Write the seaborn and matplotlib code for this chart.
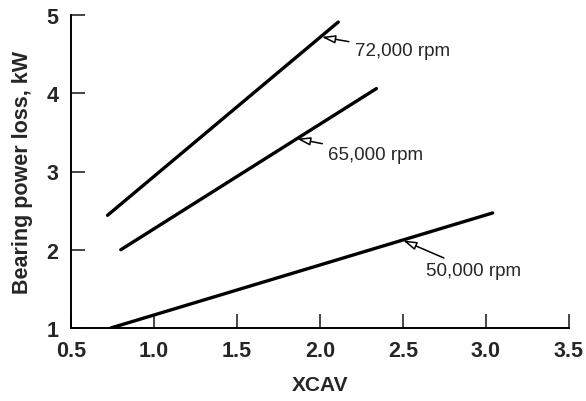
import matplotlib
matplotlib.use("Agg")
import matplotlib.pyplot as plt
import seaborn as sns
import pandas as pd

# Data
series_labels = ["72,000 rpm", "65,000 rpm", "50,000 rpm"]
x_72 = [0.72, 2.11]
y_72 = [2.44, 4.91]
x_65 = [0.80, 2.34]
y_65 = [2.00, 4.06]
x_50 = [0.74, 3.04]
y_50 = [1.00, 2.47]

# annotation points (tip on line) and text anchor
tip_x = [2.01, 1.86, 2.50]
tip_y = [4.72, 3.42, 2.12]
txt_x = [2.21, 2.05, 2.64]
txt_y = [4.54, 3.22, 1.73]

x_ticks = [0.5, 1.0, 1.5, 2.0, 2.5, 3.0, 3.5]
x_ticklabels = ["0.5", "1.0", "1.5", "2.0", "2.5", "3.0", "3.5"]
y_ticks = [1, 2, 3, 4, 5]
y_ticklabels = ["1", "2", "3", "4", "5"]

sns.set_style("ticks")
plt.rcParams["font.family"] = ["Liberation Sans", "DejaVu Sans"]

df = pd.DataFrame({
    "XCAV": x_72 + x_65 + x_50,
    "loss": y_72 + y_65 + y_50,
    "speed": [series_labels[0]] * 2 + [series_labels[1]] * 2 + [series_labels[2]] * 2,
})

fig = plt.figure(figsize=(5.86, 4.02), dpi=100)
ax = fig.add_axes([71 / 586, 1 - 329 / 402, (569 - 71) / 586, (329 - 16) / 402])

sns.lineplot(data=df, x="XCAV", y="loss", hue="speed", units="speed", estimator=None,
             palette=["black"] * 3, legend=False, lw=2.4, ax=ax, sort=False)

for lab, tx, ty, lx, ly in zip(series_labels, tip_x, tip_y, txt_x, txt_y):
    ax.annotate(lab, xy=(tx, ty), xytext=(lx, ly), fontsize=13.5, va="center", ha="left",
                arrowprops=dict(arrowstyle="-|>,head_length=0.6,head_width=0.18",
                                fc="white", ec="black", lw=1.1,
                                shrinkA=2, shrinkB=0))

ax.set_xlim(0.5, 3.5)
ax.set_ylim(1, 5)
ax.set_xticks(x_ticks)
ax.set_xticklabels(x_ticklabels)
ax.set_yticks(y_ticks)
ax.set_yticklabels(y_ticklabels)
ax.tick_params(direction="in", length=10, width=1.2, labelsize=15.5, pad=9)
for lbl in ax.get_xticklabels() + ax.get_yticklabels():
    lbl.set_fontweight("bold")
ax.set_xlabel("XCAV", fontsize=15, fontweight="bold", labelpad=10)
ax.set_ylabel("Bearing power loss, kW", fontsize=15.5, fontweight="bold", labelpad=10)
sns.despine(ax=ax)
for s in ["left", "bottom"]:
    ax.spines[s].set_linewidth(1.4)
    ax.spines[s].set_color("black")

fig.savefig("out.png", dpi=100)
